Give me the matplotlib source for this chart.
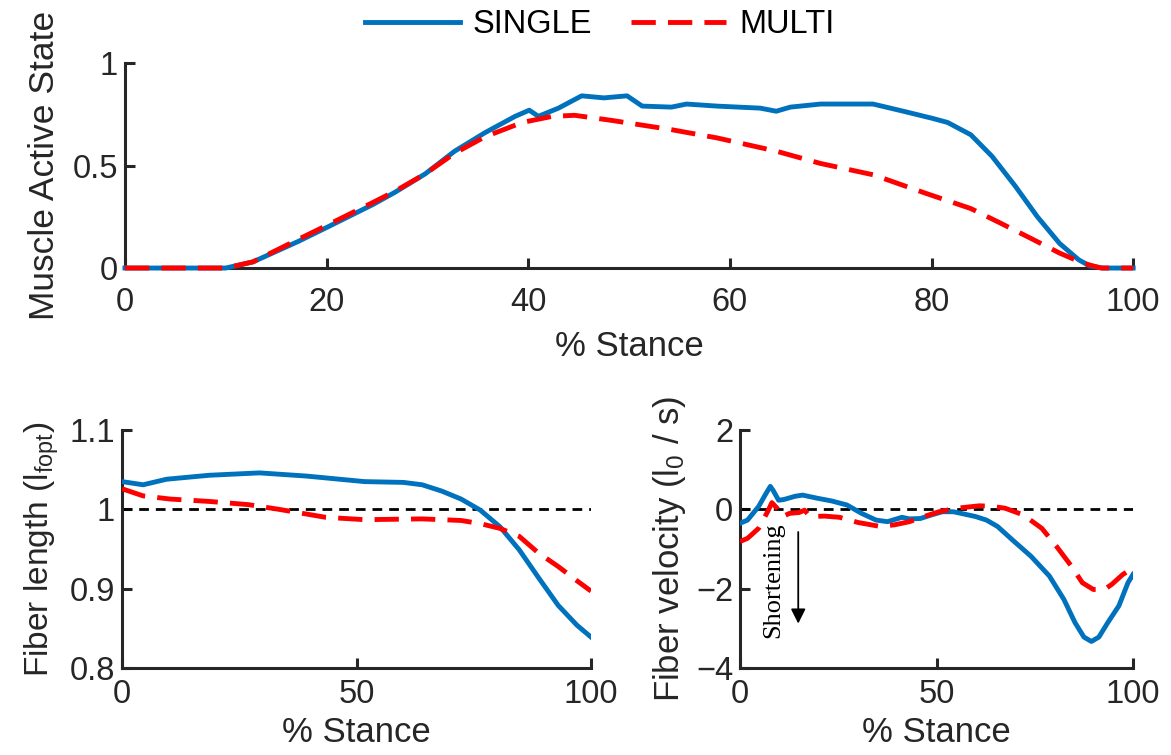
import matplotlib
matplotlib.use("Agg")
import matplotlib.pyplot as plt

plt.rcParams['font.family'] = ['Liberation Sans', 'DejaVu Sans']
plt.rcParams['mathtext.fontset'] = 'custom'
plt.rcParams['mathtext.rm'] = 'Liberation Sans'
plt.rcParams['mathtext.it'] = 'Liberation Sans'

BLUE = '#0072BD'
RED = '#FF0000'
INK = '#262626'
FS_TICK = 23.5
FS_LAB = 25

# muscle active state vs % stance
act_single_x = [0, 10, 12.7, 17.2, 20.1, 24.6, 26.8, 29.8, 32.7, 35.7, 38.7, 40.1, 41, 43, 45.3,
                47.5, 49.8, 51.3, 54.2, 55.7, 58.7, 63, 64.6, 66, 69, 74.2, 77.2, 80.1, 81.6,
                83.9, 86, 88.3, 90.5, 92.7, 94.6, 95.7, 97, 100]
act_single_y = [0, 0, 0.03, 0.13, 0.2, 0.31, 0.37, 0.46, 0.57, 0.66, 0.74, 0.77, 0.74, 0.78, 0.84,
                0.83, 0.84, 0.79, 0.785, 0.80, 0.79, 0.78, 0.765, 0.785, 0.80, 0.80, 0.765, 0.73, 0.71,
                0.65, 0.545, 0.40, 0.25, 0.12, 0.04, 0.01, 0, 0]
act_multi_x = [0, 10, 12.7, 17.2, 20.1, 24.6, 26.8, 29.8, 32.7, 35.7, 39.4, 42.4, 44.6, 48.3, 54.2,
               58.7, 64.6, 69, 74.2, 79.4, 83.9, 86.8, 89.8, 92.7, 95, 96.8, 100]
act_multi_y = [0, 0, 0.03, 0.14, 0.21, 0.32, 0.375, 0.46, 0.56, 0.64, 0.71, 0.74, 0.745, 0.72, 0.675,
               0.635, 0.57, 0.51, 0.455, 0.365, 0.29, 0.22, 0.146, 0.073, 0.024, 0, 0]

# normalised fiber length
len_single_x = [0, 4.5, 9.5, 18.6, 29.3, 39.3, 51.7, 60, 64, 68.2, 72.3, 76.4, 80.6, 84.7, 88.8, 93, 97, 100]
len_single_y = [1.035, 1.031, 1.038, 1.043, 1.046, 1.042, 1.035, 1.034, 1.031, 1.023, 1.013, 0.999,
                0.978, 0.949, 0.914, 0.879, 0.854, 0.839]
len_multi_x = [0, 4.5, 10.3, 18.6, 26.9, 33.5, 43.4, 51.7, 64, 72.3, 76.4, 80.6, 84.7, 88.8, 93, 97, 100]
len_multi_y = [1.026, 1.017, 1.013, 1.010, 1.006, 1.0, 0.99, 0.987, 0.988, 0.986, 0.982, 0.976,
               0.966, 0.945, 0.928, 0.91, 0.897]

# fiber velocity
vel_single_x = [0, 1.9, 4.7, 6.6, 7.7, 8.4, 9.8, 11.2, 14, 15.9, 19.7, 23.4, 27.2, 30.9, 34.6, 37.5,
                41.2, 43.1, 45.9, 48.7, 51.5, 54.3, 57.1, 59.9, 62.7, 65.5, 69.3, 74, 78.7, 82.4,
                85.2, 87.5, 89.4, 91.3, 93.6, 96.4, 98.7, 100]
vel_single_y = [-0.35, -0.27, 0.07, 0.4, 0.58, 0.48, 0.23, 0.25, 0.33, 0.36, 0.28, 0.21, 0.11, -0.1,
                -0.27, -0.31, -0.2, -0.24, -0.23, -0.14, -0.06, -0.06, -0.12, -0.18, -0.27, -0.43,
                -0.77, -1.18, -1.68, -2.27, -2.85, -3.22, -3.33, -3.22, -2.85, -2.43, -1.85, -1.64]
vel_multi_x = [0, 1.9, 4.7, 7, 8.1, 9.4, 10.8, 12.6, 15, 16.4, 17.8, 21.5, 25.3, 30, 35.6, 39.3, 43.1,
               46.8, 50.6, 55.2, 60.9, 63.7, 67.4, 72.1, 76.8, 80.5, 84.3, 87.1, 89.9, 92.7, 94.6,
               97.4, 100]
vel_multi_y = [-0.81, -0.73, -0.48, -0.06, 0.17, 0.03, -0.18, -0.1, -0.08, -0.02, -0.18, -0.17, -0.2,
               -0.33, -0.43, -0.39, -0.31, -0.18, -0.06, 0.03, 0.09, 0.08, 0.03, -0.14, -0.48, -0.93,
               -1.43, -1.85, -2.02, -2.02, -1.89, -1.64, -1.48]

LW = 3.5
RED_DASH = (5, 2.5)
REF_DASH = (3.5, 2.5)


def style(ax, xticks, yticks, xlim, ylim, xpad):
    ax.set_xlim(xlim)
    ax.set_ylim(ylim)
    ax.set_xticks(xticks)
    ax.set_yticks(yticks)
    for s in ['top', 'right']:
        ax.spines[s].set_visible(False)
    for s in ['left', 'bottom']:
        ax.spines[s].set_linewidth(2.2)
        ax.spines[s].set_color(INK)
    ax.tick_params(direction='in', length=7, width=2.2, colors=INK, labelsize=FS_TICK)
    ax.tick_params(axis='x', pad=xpad)
    ax.tick_params(axis='y', pad=5)


fig = plt.figure(figsize=(11.71, 7.55), dpi=100)

ax1 = fig.add_axes([0.1067, 0.645, 0.861, 0.2715])
l1, = ax1.plot(act_single_x, act_single_y, color=BLUE, lw=LW, zorder=3, clip_on=False, label='SINGLE')
l2, = ax1.plot(act_multi_x, act_multi_y, color=RED, lw=LW, dashes=RED_DASH, zorder=4, clip_on=False,
               label='MULTI')
style(ax1, [0, 20, 40, 60, 80, 100], [0, 0.5, 1], (0, 100), (0, 1), 14)
ax1.set_yticklabels(['0', '0.5', '1'])
ax1.set_xlabel('% Stance', fontsize=FS_LAB, color=INK, labelpad=8)
ax1.set_ylabel('Muscle Active State', fontsize=FS_LAB + 0.5, color=INK, labelpad=8)

leg = fig.legend(handles=[l1, l2], loc='upper center', bbox_to_anchor=(0.512, 1.027), ncol=2,
                 frameon=False, fontsize=FS_TICK, handlelength=2.9, columnspacing=1.2,
                 handletextpad=0.4)
for t in leg.get_texts():
    t.set_color('k')

ax2 = fig.add_axes([0.1042, 0.1152, 0.4005, 0.3152])
ax2.plot([0, 100], [1, 1], color='k', lw=2, dashes=REF_DASH, zorder=2)
ax2.plot(len_single_x, len_single_y, color=BLUE, lw=LW, zorder=3)
ax2.plot(len_multi_x, len_multi_y, color=RED, lw=LW, dashes=RED_DASH, zorder=4)
style(ax2, [0, 50, 100], [0.8, 0.9, 1.0, 1.1], (0, 100), (0.8, 1.1), 8)
ax2.set_yticklabels(['0.8', '0.9', '1', '1.1'])
ax2.set_xlabel('% Stance', fontsize=FS_LAB, color=INK, labelpad=4)
ax2.set_ylabel(r'Fiber length (l$_{\mathrm{fopt}}$)', fontsize=24, color=INK, labelpad=6)

ax3 = fig.add_axes([0.632, 0.1152, 0.3356, 0.3152])
ax3.plot([0, 100], [0, 0], color='k', lw=2, dashes=REF_DASH, zorder=2)
ax3.plot(vel_single_x, vel_single_y, color=BLUE, lw=LW, zorder=3)
ax3.plot(vel_multi_x, vel_multi_y, color=RED, lw=LW, dashes=RED_DASH, zorder=4)
style(ax3, [0, 50, 100], [-4, -2, 0, 2], (0, 100), (-4, 2), 8)
ax3.set_xlabel('% Stance', fontsize=FS_LAB, color=INK, labelpad=4)
ax3.set_ylabel(r'Fiber velocity (l$_{\mathrm{0}}$ / s)', fontsize=FS_LAB, color=INK, labelpad=6)
ax3.annotate('', xy=(14.8, -2.95), xytext=(14.8, -0.5),
             arrowprops=dict(arrowstyle='-|>', color='k', lw=1.3, mutation_scale=22))
ax3.text(8.4, -1.78, 'Shortening', rotation=90, ha='center', va='center',
         family='Liberation Serif', fontsize=19, color='k')

fig.savefig('out.png', dpi=100)
